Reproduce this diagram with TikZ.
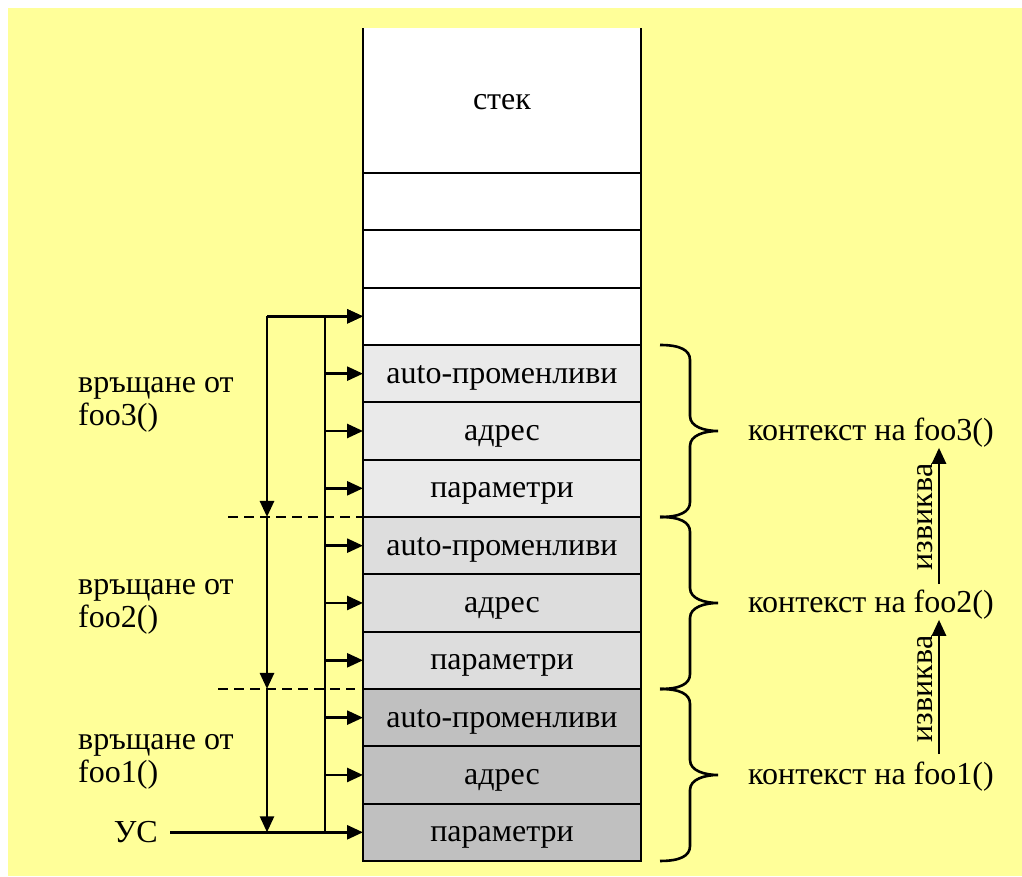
\documentclass[tikz,border=0pt]{standalone}
\usepackage{fontspec}
\setmainfont{Liberation Serif}
\usetikzlibrary{positioning,arrows.meta}
\definecolor{pad}{HTML}{FFFF99}
\definecolor{fthree}{HTML}{EAEAEA}
\definecolor{ftwo}{HTML}{DDDDDD}
\definecolor{fone}{HTML}{C0C0C0}

\begin{document}
\begin{tikzpicture}[x=1pt,y=-1pt,>={Triangle[length=16pt,width=14pt]},
    node distance=0pt,font=\fontsize{32}{33}\selectfont]
  \tikzstyle{cell}=[rectangle,draw,line width=2pt,fill=white,minimum width=278pt,
                    minimum height=57.33pt,inner sep=0pt,outer sep=0pt,
                    text height=24pt,text depth=5.2pt]
  \tikzstyle{wire}=[line width=2.6pt]
  \tikzstyle{ctx}=[inner sep=0pt,text height=24pt,text depth=5.2pt]
  \tikzstyle{lbl}=[anchor=west,align=left,inner sep=0pt]
  \tikzset{ctxbrace/.pic={
    \draw[wire] (0,0) .. controls (20,0) and (30,5) .. (30,15) -- (30,71)
      .. controls (30,82) and (45,86) .. (58,86)
      .. controls (45,86) and (30,90) .. (30,101) -- (30,157)
      .. controls (30,167) and (20,172) .. (0,172);}}

  \useasboundingbox (0,0) rectangle (1022,876);
  \fill[white] (0,0) rectangle (1022,876);
  \fill[pad] (8,8) rectangle (1022,876);

  % the stack, open at the top
  \node[cell,draw=none,minimum height=145pt] (top) at (502,100.5) {стек};
  \draw[line width=2pt] (top.north west) -- (top.south west) -- (top.south east) -- (top.north east);
  \node[cell] (e1) [below=of top] {};
  \node[cell] (e2) [below=of e1] {};
  \node[cell] (e3) [below=of e2] {};
  \node[cell,fill=fthree] (a3) [below=of e3] {auto-променливи};
  \node[cell,fill=fthree] (d3) [below=of a3] {адрес};
  \node[cell,fill=fthree] (p3) [below=of d3] {параметри};
  \node[cell,fill=ftwo] (a2) [below=of p3] {auto-променливи};
  \node[cell,fill=ftwo] (d2) [below=of a2] {адрес};
  \node[cell,fill=ftwo] (p2) [below=of d2] {параметри};
  \node[cell,fill=fone] (a1) [below=of p2] {auto-променливи};
  \node[cell,fill=fone] (d1) [below=of a1] {адрес};
  \node[cell,fill=fone] (p1) [below=of d1] {параметри};

  % stack pointer and its bus
  \coordinate (bus) at (325,0);
  \coordinate (ret) at (267,0);
  \node[inner ysep=0pt,inner xsep=12pt] (uc) [left=193pt of p1] {УС};
  \draw[wire,->] (uc.east) -- (p1.west);
  \draw[wire] (bus |- e3.west) -- (bus |- p1.west);
  \foreach \r in {e3,a3,d3,p3,a2,d2,p2,a1,d1}
    \draw[wire,->] (bus |- \r.west) -- (\r.west);
  \draw[wire,->] (ret |- e3.west) -- (e3.west);
  \draw[wire,->] (ret |- e3.west) -- (ret |- p3.south);
  \draw[wire,->] (ret |- p3.south) -- (ret |- p2.south);
  \draw[wire,->] (ret |- p2.south) -- (ret |- p1.west);
  \draw[line width=1.8pt,dash pattern=on 10pt off 6pt] ([xshift=-135pt]p3.south west) -- (p3.south west);
  \draw[line width=1.8pt,dash pattern=on 10pt off 6pt] ([xshift=-145pt]p2.south west) -- ([xshift=-8pt]p2.south west);

  \node[lbl] (r3) at (78,405) {връщане от\\foo3()};
  \node[lbl] (r2) at (78,607) {връщане от\\foo2()};
  \node[lbl] (r1) at (78,762) {връщане от\\foo1()};

  % frames of the calls
  \pic at ([xshift=19pt]a3.north east) {ctxbrace};
  \pic at ([xshift=19pt]a2.north east) {ctxbrace};
  \pic at ([xshift=19pt]a1.north east) {ctxbrace};
  \node[ctx] (c3) [right=107pt of d3] {контекст на foo3()};
  \node[ctx] (c2) [right=107pt of d2] {контекст на foo2()};
  \node[ctx] (c1) [right=107pt of d1] {контекст на foo1()};

  \coordinate (call) at (939,0);
  \draw[wire,->,shorten <=4pt,shorten >=2pt] (call |- c2.north) -- (call |- c3.south)
    node[midway,rotate=90,anchor=south,inner sep=5pt] {извиква};
  \draw[wire,->,shorten <=6pt,shorten >=2pt] (call |- c1.north) -- (call |- c2.south)
    node[midway,rotate=90,anchor=south,inner sep=5pt] {извиква};
\end{tikzpicture}
\end{document}
